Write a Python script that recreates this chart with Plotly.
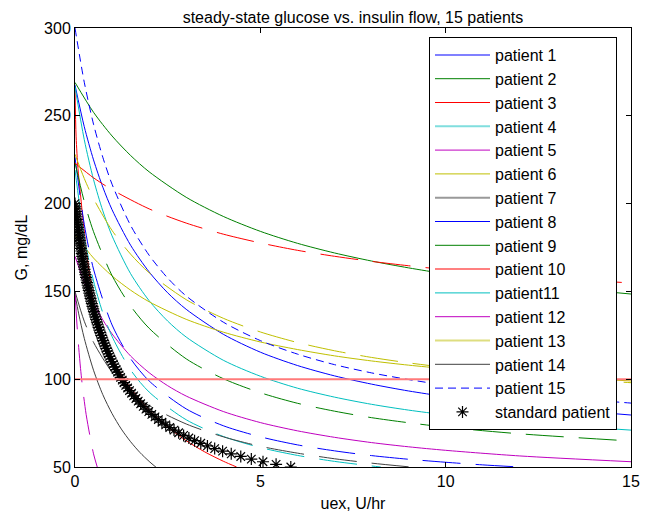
import plotly.graph_objects as go

# steady-state glucose G (mg/dL) against insulin flow uex (U/hr)
p1_x = [0, 0.25, 0.5, 0.75, 1, 1.5, 2, 2.5, 3, 4, 5, 6, 7, 8, 9, 10, 12, 15]
p1_g = [267.5, 243.8, 224.9, 209.4, 196.5, 176.3, 161.1, 149.2, 139.8, 125.6, 115.4, 107.8, 101.9, 97.2, 93.3, 90.1, 85.0, 79.6]

p2_x = [0, 0.5, 1, 1.5, 2, 3, 4, 5, 6, 7, 8, 9, 10, 12, 15]
p2_g = [269, 252.0, 238.5, 227.4, 218.1, 203.6, 192.7, 184.2, 177.4, 171.9, 167.3, 163.4, 160.0, 154.6, 148.5]

p3_x = [0, 0.03, 0.08, 0.14, 0.22, 0.33, 0.45, 0.59, 0.75, 1, 1.25, 1.5, 2, 2.5, 3, 3.5, 4, 4.36]
p3_g = [265, 238, 220, 207, 190, 170, 150, 134, 122.3, 111.7, 102.7, 95.0, 82.5, 72.8, 65.0, 58.6, 53.3, 50]

p4_x = [0, 0.25, 0.5, 0.75, 1, 1.5, 2, 2.5, 3, 4, 5, 6, 7, 8, 9, 10, 12, 15]
p4_g = [266.6, 236.4, 213.7, 195.9, 181.6, 160.1, 144.7, 133.1, 124.0, 110.8, 101.7, 94.9, 89.8, 85.7, 82.4, 79.7, 75.4, 71.0]

p5_x = [0, 0.25, 0.5, 0.75, 1, 1.5, 2, 2.5, 3, 4, 5, 6, 7, 8, 9, 10, 12, 15]
p5_g = [170, 155.3, 143.5, 133.8, 125.8, 113.2, 103.7, 96.3, 90.4, 81.6, 75.3, 70.6, 66.9, 63.9, 61.5, 59.5, 56.3, 53.0]

p6_x = [0, 0.5, 1, 1.5, 2, 3, 4, 5, 6, 7, 8, 9, 10, 12, 15]
p6_g = [182.3, 169.0, 158.8, 150.7, 144.1, 134.1, 126.8, 121.2, 116.9, 113.3, 110.4, 108.0, 106.0, 102.6, 99.0]

p7_x = [0, 0.1, 0.25, 0.5, 0.75, 1, 1.25, 1.5, 1.75, 2, 2.2]
p7_g = [148.3, 137.2, 123.3, 105.1, 91.2, 80.4, 71.6, 64.4, 58.3, 53.2, 49.6]

p8_x = [0, 0.25, 0.5, 1, 1.5, 2, 3, 4, 5, 6, 7, 8, 9, 10, 11, 12]
p8_g = [226.4, 188.2, 162.7, 130.9, 111.7, 99.0, 83.1, 73.5, 67.2, 62.6, 59.2, 56.5, 54.4, 52.7, 51.2, 50.0]

p9_x = [0, 0.25, 0.5, 1, 1.5, 2, 3, 4, 5, 6, 7, 8, 9, 10, 12, 15]
p9_g = [223.3, 201.2, 184.0, 159.0, 141.7, 129.0, 111.6, 100.3, 92.3, 86.3, 81.8, 78.1, 75.2, 72.7, 68.9, 64.8]

p10_x = [0, 0.5, 1, 2, 3, 4, 5, 6, 7, 8, 9, 10, 12, 15]
p10_g = [223, 214.7, 207.9, 197.0, 188.9, 182.6, 177.6, 173.4, 170.0, 167.1, 164.6, 162.4, 158.8, 154.8]

p11_x = [0, 0.25, 0.5, 0.75, 1, 1.5, 2, 3, 4, 5, 6, 7, 8, 8.25]
p11_g = [219.1, 181.2, 155.9, 137.8, 124.3, 105.3, 92.7, 76.9, 67.4, 61.1, 56.6, 53.2, 50.6, 50.0]

p12_x = [0, 0.05, 0.1, 0.15, 0.2, 0.3, 0.4, 0.5, 0.6]
p12_g = [150, 132, 118, 106, 96, 80, 68, 57.5, 50]

p13_x = [0, 0.25, 0.5, 1, 1.5, 2, 3, 4, 5, 6, 7, 8, 9, 10, 12, 15]
p13_g = [228.1, 214.3, 202.8, 184.7, 171.2, 160.6, 145.3, 134.7, 126.9, 120.9, 116.2, 112.4, 109.3, 106.7, 102.5, 98.0]

p14_x = [0, 0.25, 0.5, 1, 1.5, 2, 3, 4, 5, 6, 7, 8, 9]
p14_g = [150, 133, 121, 104, 93, 85, 74.5, 67.2, 61.8, 57.9, 54.7, 52.2, 50.1]

p15_x = [0, 0.25, 0.5, 0.75, 1, 1.5, 2, 2.5, 3, 4, 5, 6, 7, 8, 9, 10, 12, 15]
p15_g = [300, 269.1, 245.2, 226.4, 211.0, 187.6, 170.6, 157.6, 147.4, 132.5, 122.0, 114.3, 108.3, 103.6, 99.8, 96.6, 91.6, 86.4]

std_g = [200, 198.5, 197, 195.5, 194, 192.5, 191, 189.5, 188, 186.5, 185, 183.5, 182, 180.5,
         179, 177.5, 176, 174.5, 173, 171.5, 170, 168.5, 167, 165.5, 164, 162.5, 161, 159.5,
         158, 156.5, 155, 153.5, 152, 150.5, 149, 147.5, 146, 144.5, 143, 141.5, 140, 138.5,
         137, 135.5, 134, 132.5, 131, 129.5, 128, 126.5, 125, 123.5, 122, 120.5, 119, 117.5,
         116, 114.5, 113, 111.5, 110, 108.5, 107, 105.5, 104, 102.5, 101, 99.5, 98, 96.5,
         95, 93.5, 92, 90.5, 89, 87.5, 86, 84.5, 83, 81.5, 80, 78.5, 77, 75.5, 74, 72.5,
         71, 69.5, 68, 66.5, 65, 63.5, 62, 60.5, 59, 57.5, 56, 54.5, 53, 51.5, 50]
std_x = [0, 0.008, 0.016, 0.025, 0.033, 0.042, 0.051, 0.060, 0.069, 0.079, 0.088, 0.098, 0.108, 0.118,
         0.128, 0.139, 0.149, 0.160, 0.171, 0.183, 0.194, 0.206, 0.218, 0.231, 0.243, 0.256, 0.270, 0.283,
         0.297, 0.311, 0.325, 0.340, 0.355, 0.371, 0.387, 0.403, 0.420, 0.437, 0.454, 0.472, 0.491, 0.510,
         0.529, 0.549, 0.570, 0.591, 0.613, 0.635, 0.658, 0.682, 0.707, 0.732, 0.758, 0.785, 0.812, 0.841,
         0.870, 0.901, 0.933, 0.965, 0.999, 1.034, 1.071, 1.109, 1.148, 1.189, 1.231, 1.275, 1.321, 1.369,
         1.419, 1.471, 1.526, 1.583, 1.643, 1.706, 1.772, 1.841, 1.914, 1.991, 2.072, 2.158, 2.248, 2.345,
         2.447, 2.556, 2.672, 2.796, 2.930, 3.072, 3.226, 3.393, 3.573, 3.768, 3.982, 4.215, 4.472, 4.757,
         5.072, 5.425, 5.822]

target_x = [0, 15]
target_g = [100, 100]

names = ['patient 1', 'patient 2', 'patient 3', 'patient 4', 'patient 5', 'patient 6', 'patient 7',
         'patient 8', 'patient 9', 'patient 10', 'patient11', 'patient 12', 'patient 13', 'patient 14',
         'patient 15']
xs = [p1_x, p2_x, p3_x, p4_x, p5_x, p6_x, p7_x, p8_x, p9_x, p10_x, p11_x, p12_x, p13_x, p14_x, p15_x]
gs = [p1_g, p2_g, p3_g, p4_g, p5_g, p6_g, p7_g, p8_g, p9_g, p10_g, p11_g, p12_g, p13_g, p14_g, p15_g]

# matlab colour order
colors = ['#0000ff', '#008000', '#ff0000', '#00bfbf', '#bf00bf', '#bfbf00', '#404040']
# some legend samples come out soft and thick in the original
soft = {0: '#8080ff', 3: '#80dede', 6: '#999999', 9: '#ff8080', 12: '#dede80'}
longdash = '38px,15px'

fig = go.Figure()

for i in range(15):
    c = colors[i % 7]
    if i < 7:
        dash = 'solid'
    elif i < 14:
        dash = longdash
    else:
        dash = '8px,5px'
    fig.add_trace(go.Scatter(x=xs[i], y=gs[i], mode='lines', showlegend=False, hoverinfo='skip',
                             line=dict(color=c, width=1, dash=dash, shape='spline', smoothing=0.8)))

fig.add_trace(go.Scatter(x=std_x, y=std_g, mode='markers', showlegend=False,
                         marker=dict(symbol='asterisk-open', size=10, color='black',
                                     line=dict(color='black', width=1.2))))

fig.add_trace(go.Scatter(x=target_x, y=target_g, mode='lines', showlegend=False,
                         line=dict(color='#ff7a7a', width=2)))

# legend entries (drawn solid, as in the original legend)
for i in range(15):
    if i in soft:
        ln = dict(color=soft[i], width=2)
    else:
        ln = dict(color=colors[i % 7], width=1, dash='8px,5px' if i == 14 else 'solid')
    fig.add_trace(go.Scatter(x=[None], y=[None], mode='lines', name=names[i], line=ln))
fig.add_trace(go.Scatter(x=[None], y=[None], mode='markers', name='standard patient',
                         marker=dict(symbol='asterisk-open', size=10, color='black',
                                     line=dict(color='black', width=1.2))))

axis_style = dict(showline=True, linecolor='black', linewidth=1, mirror='ticks', ticks='inside',
                  ticklen=5, tickcolor='black', showgrid=False, zeroline=False, automargin=False,
                  tickfont=dict(size=16, color='black'))

# the page puts the figure 8px in from the corner, so the figure is 8px smaller each way
fig.update_layout(
    width=644, height=511,
    paper_bgcolor='white', plot_bgcolor='white',
    font=dict(family='Liberation Sans, Arial, sans-serif', color='black'),
    margin=dict(l=67, r=21, t=20, b=52),
    title=dict(text='steady-state glucose vs. insulin flow, 15 patients', x=345 / 644, xanchor='center',
               y=1 - 4 / 511, yanchor='top', font=dict(size=16)),
    xaxis=dict(range=[0, 15], tickvals=[0, 5, 10, 15],
               title=dict(text='uex, U/hr', font=dict(size=16), standoff=8), **axis_style),
    yaxis=dict(range=[50, 300], tickvals=[50, 100, 150, 200, 250, 300],
               title=dict(text='G, mg/dL', font=dict(size=16), standoff=12), **axis_style),
    legend=dict(x=(429 - 75) / 556, y=(467 - 37) / 439, xanchor='left', yanchor='top',
                bgcolor='white', bordercolor='black', borderwidth=1, font=dict(size=16),
                itemwidth=55, tracegroupgap=0),
)

fig.write_html("out.html")
